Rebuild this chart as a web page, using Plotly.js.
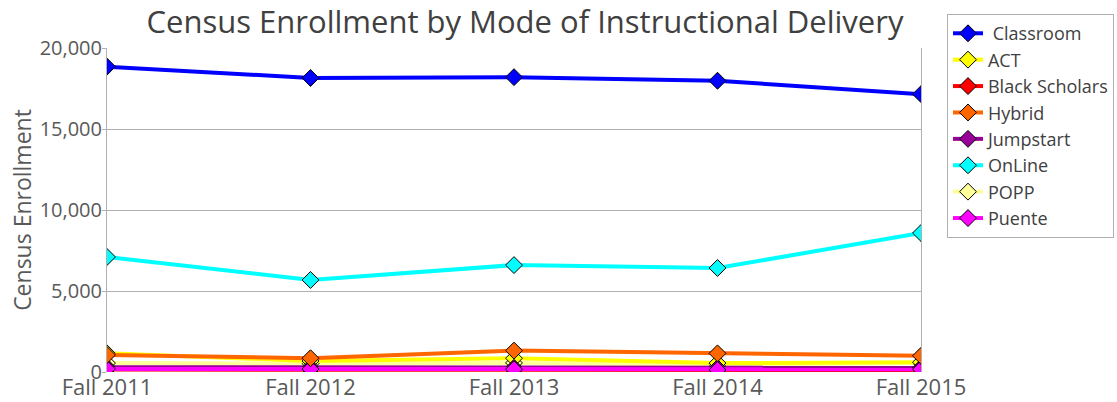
<!DOCTYPE html>
<html>
<head>
<meta charset="utf-8">
<script src="https://cdn.plot.ly/plotly-3.0.1.min.js"></script>
<style>html,body{margin:0;padding:0;background:#fff}#chart{width:1117px;height:402px}</style>
</head>
<body>
<div id="chart"></div>
<script>
const terms = ["Fall 2011", "Fall 2012", "Fall 2013", "Fall 2014", "Fall 2015"];
const seriesNames = ["Classroom", "ACT", "Black Scholars", "Hybrid", "Jumpstart", "OnLine", "POPP", "Puente"];
const seriesColors = ["#0000ff", "#ffff00", "#ff0000", "#ff6600", "#990099", "#00ffff", "#ffff99", "#ff00ff"];
const classroom = [18850, 18150, 18200, 17980, 17150];
const act = [1150, 680, 850, 550, 600];
const blackScholars = [150, 130, 120, 100, 120];
const hybrid = [1050, 850, 1320, 1150, 1000];
const jumpstart = [300, 280, 260, 250, 260];
const online = [7100, 5680, 6600, 6420, 8580];
const popp = [550, 520, 560, 450, 560];
const puente = [190, 180, 170, 130, 170];
const seriesValues = [classroom, act, blackScholars, hybrid, jumpstart, online, popp, puente];

// drawing order (legend keeps original order via legendrank)
const drawOrder = [5, 0, 6, 1, 4, 2, 7, 3];
const traces = drawOrder.map(i => ({
  x: terms, y: seriesValues[i], name: (i === 0 ? " " : "") + seriesNames[i],
  legendrank: i + 1,
  type: "scatter", mode: "lines+markers",
  line: {color: seriesColors[i], width: 4},
  marker: {symbol: "diamond", size: 13, color: seriesColors[i], line: {color: "#000", width: 1}}
}));

const layout = {
  width: 1117, height: 402,
  margin: {l: 107, r: 196, t: 48, b: 30},
  paper_bgcolor: "#fff", plot_bgcolor: "#fff",
  font: {family: "Open Sans, sans-serif", color: "#595959"},
  title: {text: "Census Enrollment by Mode of Instructional Delivery", x: 0.47, xref: "container", y: 0.945, yanchor: "middle",
          font: {size: 31, color: "#404040", family: "Open Sans, sans-serif"}},
  xaxis: {type: "category", range: [0, 4], showgrid: false, zeroline: false, showline: false,
          ticks: "", tickfont: {size: 22, color: "#595959"}, automargin: false},
  yaxis: {range: [0, 20000], dtick: 5000, tickformat: ",d", showgrid: true, gridcolor: "#b0b0b0", gridwidth: 1,
          zeroline: false, showline: true, mirror: true, linecolor: "#b0b0b0", linewidth: 1,
          ticks: "outside", ticklen: 4, tickcolor: "#b0b0b0", ticklabelstandoff: -4,
          tickfont: {size: 20, color: "#595959"},
          title: {text: "Census Enrollment", font: {size: 23, color: "#595959"}, standoff: 1}, automargin: false},
  legend: {x: 0.8478, xref: "container", y: 0.965, yref: "container", xanchor: "left", yanchor: "top",
           bordercolor: "#b0b0b0", borderwidth: 1, maxheight: 300,
           font: {size: 18, color: "#404040"}, tracegroupgap: 0, itemwidth: 30, traceorder: "normal"},
  showlegend: true
};

Plotly.newPlot("chart", traces, layout, {displayModeBar: false, staticPlot: true});
</script>
</body>
</html>
